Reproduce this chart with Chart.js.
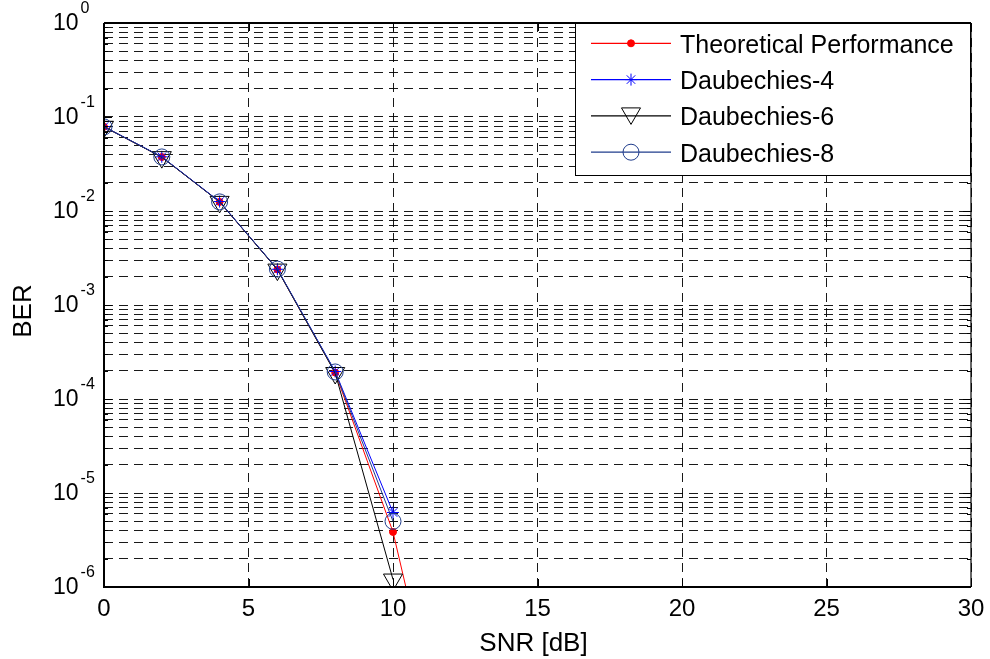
<!DOCTYPE html>
<html><head><meta charset="utf-8">
<script src="https://cdn.jsdelivr.net/npm/chart.js@4.4.1/dist/chart.umd.min.js"></script>
<style>html,body{margin:0;padding:0;background:#fff;overflow:hidden}canvas{display:block}</style>
</head><body>
<canvas id="c" width="990" height="659"></canvas>
<script>
// ---- data ----
const snrTheory = [0, 2, 4, 6, 8, 10, 12];
const theoretical = [0.0786, 0.0375, 0.0125, 0.00239, 0.000191, 0.00000385, 0.000000009];
const snrWavelet = [0, 2, 4, 6, 8, 10];
const daub4 = [0.0790, 0.0377, 0.0126, 0.00240, 0.000196, 0.0000062];
const daub6 = [0.0787, 0.0374, 0.0125, 0.00238, 0.000189, 0.0000012];
const daub8 = [0.0785, 0.0376, 0.0125, 0.00241, 0.000194, 0.0000050];
const seriesLabels = ['Theoretical Performance', 'Daubechies-4', 'Daubechies-6', 'Daubechies-8'];
const xTickValues = [0, 5, 10, 15, 20, 25, 30];
const yExponents = [0, -1, -2, -3, -4, -5, -6];
const xTitle = 'SNR [dB]';
const yTitle = 'BER';

const FONT = '"Liberation Sans", Arial, sans-serif';
const toXY = (xs, ys) => xs.map((x, i) => ({x: x, y: ys[i]}));

// minor+major log grid values
const yGridValues = [];
for (let e = -6; e <= 0; e++) {
  for (let m = 1; m <= 9; m++) {
    const v = m * Math.pow(10, e);
    if (v <= 1.0000001) yGridValues.push(v);
  }
}

const styles = [
  {color: '#ff0000', pointStyle: 'circle', radius: 3.5, fill: '#ff0000', rotation: 0},
  {color: '#0000ff', pointStyle: 'star', radius: 6, fill: 'rgba(0,0,0,0)', rotation: 0},
  {color: '#000000', pointStyle: 'triangle', radius: 11, fill: 'rgba(0,0,0,0)', rotation: 180},
  {color: '#1f3c8c', pointStyle: 'circle', radius: 8, fill: 'rgba(0,0,0,0)', rotation: 0}
];
const seriesData = [toXY(snrTheory, theoretical), toXY(snrWavelet, daub4), toXY(snrWavelet, daub6), toXY(snrWavelet, daub8)];

const datasets = seriesData.map((d, i) => ({
  label: seriesLabels[i],
  data: d,
  order: 3 - i,
  borderColor: styles[i].color,
  borderWidth: 1,
  pointStyle: styles[i].pointStyle,
  pointRadius: styles[i].radius,
  pointRotation: styles[i].rotation,
  pointBackgroundColor: styles[i].fill,
  pointBorderColor: styles[i].color,
  pointBorderWidth: 1,
  tension: 0,
  fill: false
}));

function drawMarker(ctx, st, x, y) {
  ctx.save();
  ctx.strokeStyle = st.color;
  ctx.fillStyle = st.fill;
  ctx.lineWidth = 1;
  const r = st.radius;
  ctx.beginPath();
  if (st.pointStyle === 'circle') {
    ctx.arc(x, y, r, 0, Math.PI * 2);
    ctx.fill(); ctx.stroke();
  } else if (st.pointStyle === 'star') {
    for (let k = 0; k < 4; k++) {
      const a = k * Math.PI / 4;
      ctx.moveTo(x - Math.sin(a) * r, y - Math.cos(a) * r);
      ctx.lineTo(x + Math.sin(a) * r, y + Math.cos(a) * r);
    }
    ctx.stroke();
  } else if (st.pointStyle === 'triangle') {
    let rad = st.rotation * Math.PI / 180;
    ctx.moveTo(x + Math.sin(rad) * r, y - Math.cos(rad) * r);
    rad += 2 * Math.PI / 3;
    ctx.lineTo(x + Math.sin(rad) * r, y - Math.cos(rad) * r);
    rad += 2 * Math.PI / 3;
    ctx.lineTo(x + Math.sin(rad) * r, y - Math.cos(rad) * r);
    ctx.closePath();
    ctx.fill(); ctx.stroke();
  }
  ctx.restore();
}

const decor = {
  id: 'decor',
  afterDraw(chart) {
    const ctx = chart.ctx;
    const xs = chart.scales.x, ys = chart.scales.y;
    const L = chart.chartArea.left, R = chart.chartArea.right, T = chart.chartArea.top, B = chart.chartArea.bottom;
    ctx.save();
    // inner tick marks
    ctx.strokeStyle = '#000';
    ctx.lineWidth = 1;
    ctx.beginPath();
    yGridValues.forEach(v => {
      const y = Math.round(ys.getPixelForValue(v)) + 0.5;
      const isMajor = Math.abs(Math.log10(v) - Math.round(Math.log10(v))) < 1e-9;
      const len = isMajor ? 8 : 4;
      ctx.moveTo(L, y); ctx.lineTo(L + len, y);
      ctx.moveTo(R, y); ctx.lineTo(R - len, y);
    });
    xTickValues.forEach(v => {
      const x = Math.round(xs.getPixelForValue(v)) + 0.5;
      ctx.moveTo(x, B); ctx.lineTo(x, B - 8);
      ctx.moveTo(x, T); ctx.lineTo(x, T + 8);
    });
    ctx.stroke();
    // box
    ctx.lineWidth = 2;
    ctx.beginPath();
    ctx.moveTo(L, T); ctx.lineTo(L, B); ctx.lineTo(R, B);
    ctx.moveTo(L, T); ctx.lineTo(R, T);
    ctx.stroke();
    ctx.lineWidth = 1.2;
    ctx.beginPath();
    ctx.moveTo(R, T); ctx.lineTo(R, B);
    ctx.stroke();

    // x tick labels
    ctx.fillStyle = '#000';
    ctx.font = '24px ' + FONT;
    ctx.textAlign = 'center';
    ctx.textBaseline = 'alphabetic';
    xTickValues.forEach(v => {
      ctx.fillText(String(v), xs.getPixelForValue(v), B + 29);
    });
    // y tick labels: 10^e
    yExponents.forEach(e => {
      const y = ys.getPixelForValue(Math.pow(10, e));
      ctx.font = '23px ' + FONT;
      ctx.textAlign = 'left';
      ctx.fillText('10', 53, y + 7);
      const w = ctx.measureText('10').width;
      ctx.font = '16px ' + FONT;
      ctx.fillText(String(e), 53 + w + 2, y - 10);
    });
    // axis titles
    ctx.font = '26px ' + FONT;
    ctx.textAlign = 'center';
    ctx.fillText(xTitle, (L + R) / 2 - 4, 651);
    ctx.save();
    ctx.translate(31, 311);
    ctx.rotate(-Math.PI / 2);
    ctx.fillText(yTitle, 0, 0);
    ctx.restore();

    // legend
    const lx0 = 575.5, ly0 = T + 0.5, lw = 395, lh = 152;
    ctx.fillStyle = '#fff';
    ctx.fillRect(lx0, ly0, lw, lh);
    ctx.strokeStyle = '#000';
    ctx.lineWidth = 1;
    ctx.strokeRect(lx0, ly0, lw, lh);
    seriesLabels.forEach((lab, i) => {
      const y = 43.3 + i * 36.3;
      const st = styles[i];
      ctx.strokeStyle = st.color;
      ctx.lineWidth = 1.2;
      ctx.beginPath();
      ctx.moveTo(591, y); ctx.lineTo(671, y);
      ctx.stroke();
      drawMarker(ctx, st, 631, st.pointStyle === 'triangle' ? y - 2.5 : y);
      ctx.fillStyle = '#000';
      ctx.font = '25px ' + FONT;
      ctx.textAlign = 'left';
      ctx.fillText(lab, 680, y + 9.5);
    });
    ctx.restore();
  }
};

const gridStyle = {color: 'rgba(0,0,0,0.9)', lineWidth: 1, drawTicks: false};

new Chart(document.getElementById('c'), {
  type: 'line',
  data: {datasets: datasets},
  options: {
    responsive: false,
    animation: false,
    devicePixelRatio: 1,
    layout: {padding: {left: 104, right: 19, top: 23, bottom: 72}},
    plugins: {legend: {display: false}, tooltip: {enabled: false}},
    scales: {
      x: {
        type: 'linear', min: 0, max: 30,
        afterBuildTicks: s => { s.ticks = xTickValues.map(v => ({value: v})); },
        ticks: {display: false},
        grid: gridStyle,
        border: {display: false, dash: [9, 6]},
        title: {display: false}
      },
      y: {
        type: 'logarithmic', min: 1e-6, max: 1,
        afterBuildTicks: s => { s.ticks = yGridValues.map(v => ({value: v})); },
        ticks: {display: false},
        grid: gridStyle,
        border: {display: false, dash: [9, 6]},
        title: {display: false}
      }
    }
  },
  plugins: [decor]
});
</script>
</body></html>
